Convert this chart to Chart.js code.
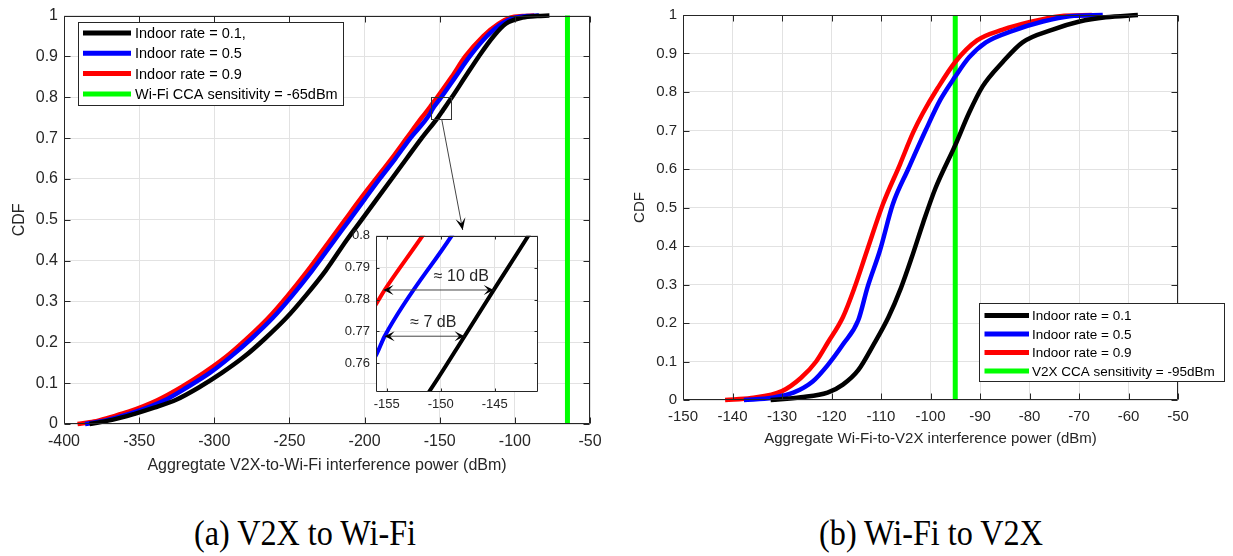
<!DOCTYPE html>
<html>
<head>
<meta charset="utf-8">
<script src="https://cdn.jsdelivr.net/npm/chart.js@4.4.1/dist/chart.umd.min.js"></script>
<style>
body{margin:0;background:#fff;width:1233px;height:556px;position:relative;overflow:hidden;}
canvas{position:absolute;}
#cvA{left:0;top:0;}
#cvB{left:620px;top:0;}
#cvInset{left:340px;top:222px;}
.caption{position:absolute;top:514px;width:400px;text-align:center;font-family:"Liberation Serif","Times New Roman",serif;font-size:35px;line-height:40px;color:#000;transform:scaleX(0.92);}
</style>
</head>
<body>
<canvas id="cvA" width="620" height="480"></canvas>
<canvas id="cvB" width="613" height="460"></canvas>
<canvas id="cvInset" width="205" height="195"></canvas>
<div class="caption" style="left:105px">(a) V2X to Wi-Fi</div>
<div class="caption" style="left:731px">(b) Wi-Fi to V2X</div>
<script>
// ---------------- (a) V2X -> Wi-Fi ----------------
const aRate01Dbm = [-383,-368,-353,-340,-325,-310,-295,-280,-266,-252,-239,-226,-212,-202,-192,-182,-172,-162,-151.1,-147.8,-145.1,-141.9,-133,-124,-114,-106,-95,-85,-77];
const aRate01Cdf = [0,0.01,0.025,0.04,0.06,0.09,0.125,0.165,0.21,0.26,0.315,0.375,0.45,0.5,0.55,0.6,0.65,0.7,0.751,0.7685,0.783,0.8,0.85,0.9,0.95,0.98,0.995,0.999,1];

const aRate05Dbm = [-386,-376,-364,-352,-333,-318,-303,-289,-275,-261,-248,-235,-220,-210,-200,-190,-179.5,-169.5,-156,-155.2,-149,-139.5,-130,-118.5,-109,-100,-92,-84];
const aRate05Cdf = [0,0.006,0.017,0.03,0.058,0.09,0.125,0.165,0.21,0.26,0.315,0.375,0.45,0.5,0.55,0.6,0.65,0.7,0.7625,0.7685,0.8,0.85,0.9,0.95,0.98,0.995,0.999,1];

const aRate09Dbm = [-391,-380,-369,-357,-338,-322,-307,-292,-278,-264,-251,-238,-223,-213,-203,-192.5,-182,-172,-162,-156.1,-155.2,-151.7,-142,-133,-121,-111,-103,-95,-87];
const aRate09Cdf = [0,0.006,0.017,0.03,0.058,0.09,0.125,0.165,0.21,0.26,0.315,0.375,0.45,0.5,0.55,0.6,0.65,0.7,0.75,0.778,0.783,0.8,0.85,0.9,0.95,0.98,0.995,0.999,1];

const aCcaDbm = -65;
const aXTicks = [-400,-350,-300,-250,-200,-150,-100,-50];
const aLegend = ["Indoor rate = 0.1,","Indoor rate = 0.5","Indoor rate = 0.9","Wi-Fi CCA sensitivity = -65dBm"];

// zoomed window of (a)
const insetXTicks = [-155,-150,-145];
const insetYTicks = [0.76,0.77,0.78,0.79,0.8];

// ---------------- (b) Wi-Fi -> V2X ----------------
const bRate01Dbm = [-132.3,-126.2,-120.8,-117.7,-114.6,-111.5,-108.5,-106,-103.8,-101.5,-99,-95,-92.2,-89.5,-85.4,-81.4,-75.3,-69.9,-64.6,-58.1];
const bRate01Cdf = [0,0.007,0.019,0.04,0.0775,0.144,0.215,0.29,0.37,0.46,0.55,0.662,0.746,0.814,0.878,0.929,0.962,0.983,0.994,1];

const bRate05Dbm = [-137.7,-132,-127.7,-123.8,-120.8,-117.7,-114.6,-112.7,-110.2,-107.6,-104.5,-101,-98,-95,-92.2,-88.8,-83.4,-77.3,-71.9,-65.2];
const bRate05Cdf = [0,0.006,0.019,0.048,0.09,0.144,0.207,0.294,0.389,0.509,0.6,0.7,0.78,0.84,0.89,0.929,0.959,0.983,0.997,1];

const bRate09Dbm = [-141.5,-136.2,-130,-126.2,-123.1,-120.8,-117.7,-115.4,-112.8,-109.6,-106.2,-103.5,-101.5,-98.7,-95,-90.6,-85.4,-79.9,-73.8,-67.4];
const bRate09Cdf = [0,0.005,0.023,0.057,0.1,0.148,0.215,0.29,0.389,0.509,0.611,0.695,0.746,0.807,0.878,0.934,0.962,0.982,0.997,1];

const bCcaDbm = -95;
const bXTicks = [-150,-140,-130,-120,-110,-100,-90,-80,-70,-60,-50];
const bLegend = ["Indoor rate = 0.1","Indoor rate = 0.5","Indoor rate = 0.9","V2X CCA sensitivity = -95dBm"];

const cdfTicks = [0,0.1,0.2,0.3,0.4,0.5,0.6,0.7,0.8,0.9,1];

// ---------------- shared look ----------------
const FONT = "'Liberation Sans', Arial, sans-serif";
const INK = "#262626";
const GRID = "#e2e2e2";
const COLORS = ["#000000","#0000ff","#ff0000","#00ff00"];

function pts(xs, ys){
    return xs.map((x,i)=>({x:x, y:ys[i]}));
}

function lineSet(label, xs, ys, color, width, clip){
    return {
        label: label,
        data: pts(xs, ys),
        borderColor: color,
        backgroundColor: color,
        borderWidth: width,
        pointRadius: 0,
        showLine: true,
        fill: false,
        cubicInterpolationMode: "monotone",
        clip: clip
    };
}

function fixedTicks(values){
    return scale => { scale.ticks = values.map(v => ({value:v})); };
}

function fmt(v){
    return String(+Number(v).toFixed(2));
}

function arrowHead(ctx, fx, fy, tx, ty, len, half){
    const ang = Math.atan2(ty-fy, tx-fx);
    ctx.save();
    ctx.translate(tx, ty);
    ctx.rotate(ang);
    ctx.beginPath();
    ctx.moveTo(0,0);
    ctx.lineTo(-len,-half);
    ctx.lineTo(-len*0.55,0);
    ctx.lineTo(-len,half);
    ctx.closePath();
    ctx.fill();
    ctx.restore();
}

// box round the plot with the small inward ticks
const axesFrame = {
    id: "axesFrame",
    afterDatasetsDraw(chart, args, opts){
        const {ctx, chartArea:a, scales:{x, y}} = chart;
        const len = opts.tick || 5;
        const L = Math.round(a.left)+0.5, R = Math.round(a.right)-0.5;
        const T = Math.round(a.top)+0.5, B = Math.round(a.bottom)-0.5;
        ctx.save();
        ctx.strokeStyle = INK;
        ctx.lineWidth = 1;
        ctx.beginPath();
        x.ticks.forEach(t => {
            const px = Math.round(x.getPixelForValue(t.value))+0.5;
            ctx.moveTo(px,B); ctx.lineTo(px,B-len);
            ctx.moveTo(px,T); ctx.lineTo(px,T+len);
        });
        y.ticks.forEach(t => {
            const py = Math.round(y.getPixelForValue(t.value))+0.5;
            ctx.moveTo(L,py); ctx.lineTo(L+len,py);
            ctx.moveTo(R,py); ctx.lineTo(R-len,py);
        });
        ctx.rect(L, T, R-L, B-T);
        ctx.stroke();
        ctx.restore();
    }
};

// legend box drawn inside the axes
const boxLegend = {
    id: "boxLegend",
    afterDraw(chart, args, o){
        if(!o.box) return;
        const ctx = chart.ctx;
        const [bx, by, bw, bh] = o.box;
        ctx.save();
        ctx.fillStyle = "#fff";
        ctx.fillRect(bx, by, bw, bh);
        ctx.strokeStyle = INK;
        ctx.lineWidth = 1;
        ctx.strokeRect(bx+0.5, by+0.5, bw, bh);
        ctx.font = o.size + "px " + FONT;
        ctx.textBaseline = "middle";
        chart.data.datasets.forEach((ds,i) => {
            const yy = by + o.first + i*o.row;
            ctx.strokeStyle = ds.borderColor;
            ctx.lineWidth = 5;
            ctx.beginPath();
            ctx.moveTo(bx+o.sample[0], yy);
            ctx.lineTo(bx+o.sample[1], yy);
            ctx.stroke();
            ctx.fillStyle = "#000";
            ctx.fillText(ds.label, bx+o.textX, yy+1);
        });
        ctx.restore();
    }
};

// rectangle that marks the zoomed window, and the arrow to the inset
const zoomMark = {
    id: "zoomMark",
    afterDatasetsDraw(chart, args, o){
        if(!o.rect) return;
        const {ctx, scales:{x, y}} = chart;
        const [x0, x1, y0, y1] = o.rect;
        const px0 = x.getPixelForValue(x0), px1 = x.getPixelForValue(x1);
        const py0 = y.getPixelForValue(y0), py1 = y.getPixelForValue(y1);
        ctx.save();
        ctx.strokeStyle = "#333";
        ctx.lineWidth = 1;
        ctx.strokeRect(Math.round(px0)+0.5, Math.round(py1)+0.5, Math.round(px1-px0), Math.round(py0-py1));
        const fx = x.getPixelForValue(o.from[0]), fy = y.getPixelForValue(o.from[1]);
        const tx = x.getPixelForValue(o.to[0]), ty = y.getPixelForValue(o.to[1]);
        ctx.strokeStyle = "#444";
        ctx.beginPath();
        ctx.moveTo(fx, fy);
        ctx.lineTo(tx, ty);
        ctx.stroke();
        ctx.fillStyle = "#000";
        arrowHead(ctx, fx, fy, tx, ty, 12, 5);
        ctx.restore();
    }
};

// double arrows with the dB gaps, in the inset
const gapArrows = {
    id: "gapArrows",
    afterDatasetsDraw(chart, args, o){
        if(!o.items) return;
        const {ctx, scales:{x, y}} = chart;
        ctx.save();
        o.items.forEach(it => {
            const xa = x.getPixelForValue(it.from), xb = x.getPixelForValue(it.to);
            const yy = y.getPixelForValue(it.at);
            ctx.strokeStyle = "#444";
            ctx.lineWidth = 1;
            ctx.beginPath();
            ctx.moveTo(xa, yy);
            ctx.lineTo(xb, yy);
            ctx.stroke();
            ctx.fillStyle = "#000";
            arrowHead(ctx, xb, yy, xa, yy, 10, 5);
            arrowHead(ctx, xa, yy, xb, yy, 10, 5);
            ctx.font = "16px " + FONT;
            ctx.textAlign = "center";
            ctx.textBaseline = "middle";
            ctx.fillStyle = INK;
            ctx.fillText(it.text, x.getPixelForValue(it.tx), y.getPixelForValue(it.ty));
        });
        ctx.restore();
    }
};

// white plot background for the inset
const plotFill = {
    id: "plotFill",
    beforeDraw(chart, args, o){
        if(!o.color) return;
        const {ctx, chartArea:a} = chart;
        ctx.save();
        ctx.fillStyle = o.color;
        ctx.fillRect(a.left, a.top, a.width, a.height);
        ctx.restore();
    }
};

Chart.register(axesFrame, boxLegend, zoomMark, gapArrows, plotFill);

function axisX(min, max, ticks, title, size, pad, titlePad, xh){
    return {
        type: "linear", min: min, max: max,
        afterBuildTicks: fixedTicks(ticks),
        afterFit: s => { s.height = xh; },
        grid: {color: GRID, drawTicks: false},
        border: {display: false},
        ticks: {autoSkip: false, maxRotation: 0, padding: pad, color: INK, font: {family: FONT, size: size}, callback: fmt},
        title: {display: !!title, text: title, color: INK, font: {family: FONT, size: size}, padding: titlePad}
    };
}

function axisY(min, max, ticks, title, size, yw, pad, titlePad){
    return {
        type: "linear", min: min, max: max,
        afterBuildTicks: fixedTicks(ticks),
        afterFit: s => { s.width = yw; },
        grid: {color: GRID, drawTicks: false},
        border: {display: false},
        ticks: {autoSkip: false, padding: pad, color: INK, font: {family: FONT, size: size}, callback: fmt},
        title: {display: !!title, text: title, color: INK, font: {family: FONT, size: size}, padding: titlePad}
    };
}

// ---------------- chart (a) ----------------
new Chart(document.getElementById("cvA"), {
    type: "scatter",
    data: {
        datasets: [
            lineSet(aLegend[0], aRate01Dbm, aRate01Cdf, COLORS[0], 4.5, false),
            lineSet(aLegend[1], aRate05Dbm, aRate05Cdf, COLORS[1], 4.5, false),
            lineSet(aLegend[2], aRate09Dbm, aRate09Cdf, COLORS[2], 4.5, false),
            lineSet(aLegend[3], [aCcaDbm, aCcaDbm], [0, 1], COLORS[3], 5, false)
        ]
    },
    options: {
        responsive: false,
        animation: false,
        layout: {padding: {left: 0, top: 9, right: 30, bottom: 0}},
        plugins: {
            legend: {display: false},
            tooltip: {enabled: false},
            axesFrame: {tick: 6},
            boxLegend: {box: [78, 22, 265, 83], first: 11, row: 20.3, sample: [5, 53], textX: 57, size: 14.5},
            zoomMark: {rect: [-155.5, -142, 0.747, 0.8], from: [-148.7, 0.747], to: [-134.7, 0.475]}
        },
        scales: {
            x: axisX(-400, -50, aXTicks, "Aggregtate V2X-to-Wi-Fi interference power (dBm)", 16, 8, {top: 4, bottom: 5}, 56),
            y: axisY(0, 1, cdfTicks, "CDF", 16, 64, 6, {top: 10, bottom: 0})
        }
    }
});

// ---------------- inset of (a) ----------------
new Chart(document.getElementById("cvInset"), {
    type: "scatter",
    data: {
        datasets: [
            lineSet(aLegend[0], aRate01Dbm, aRate01Cdf, COLORS[0], 4, true),
            lineSet(aLegend[1], aRate05Dbm, aRate05Cdf, COLORS[1], 4, true),
            lineSet(aLegend[2], aRate09Dbm, aRate09Cdf, COLORS[2], 4, true)
        ]
    },
    options: {
        responsive: false,
        animation: false,
        layout: {padding: {left: 0, top: 7, right: 7, bottom: 0}},
        plugins: {
            legend: {display: false},
            tooltip: {enabled: false},
            plotFill: {color: "#fff"},
            axesFrame: {tick: 3},
            gapArrows: {items: [
                {from: -155.3, to: -145.1, at: 0.783, text: "\u2248 10 dB", tx: -148.1, ty: 0.7872},
                {from: -155.2, to: -147.8, at: 0.7685, text: "\u2248 7 dB", tx: -150.7, ty: 0.7727}
            ]}
        },
        scales: {
            x: axisX(-156, -141, insetXTicks, "", 13, 5, 0, 25),
            y: axisY(0.751, 0.8, insetYTicks, "", 13, 36, 6, 0)
        }
    }
});

// ---------------- chart (b) ----------------
new Chart(document.getElementById("cvB"), {
    type: "scatter",
    data: {
        datasets: [
            lineSet(bLegend[0], bRate01Dbm, bRate01Cdf, COLORS[0], 4.5, false),
            lineSet(bLegend[1], bRate05Dbm, bRate05Cdf, COLORS[1], 4.5, false),
            lineSet(bLegend[2], bRate09Dbm, bRate09Cdf, COLORS[2], 4.5, false),
            lineSet(bLegend[3], [bCcaDbm, bCcaDbm], [0, 1], COLORS[3], 5, false)
        ]
    },
    options: {
        responsive: false,
        animation: false,
        layout: {padding: {left: 0, top: 7, right: 55, bottom: 0}},
        plugins: {
            legend: {display: false},
            tooltip: {enabled: false},
            axesFrame: {tick: 6},
            boxLegend: {box: [359, 303, 245, 78], first: 12.5, row: 18.5, sample: [5.5, 50], textX: 53, size: 13.5}
        },
        scales: {
            x: axisX(-150, -50, bXTicks, "Aggregate Wi-Fi-to-V2X interference power (dBm)", 15, 8, {top: 4, bottom: 12}, 60),
            y: axisY(0, 1, cdfTicks, "CDF", 15, 63, 6, {top: 11, bottom: 0})
        }
    }
});
</script>
</body>
</html>
